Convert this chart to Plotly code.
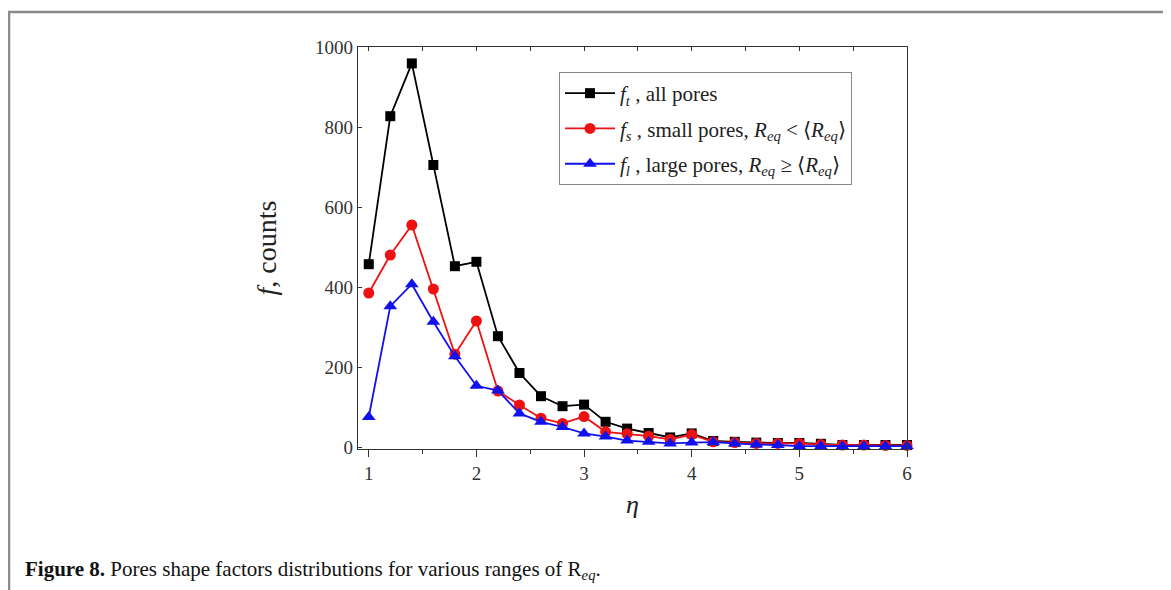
import plotly.graph_objects as go

eta = [1.0, 1.2, 1.4, 1.6, 1.8, 2.0, 2.2, 2.4, 2.6, 2.8, 3.0, 3.2, 3.4, 3.6, 3.8,
       4.0, 4.2, 4.4, 4.6, 4.8, 5.0, 5.2, 5.4, 5.6, 5.8, 6.0]
f_all = [457, 827, 959, 705, 452, 463, 277, 185, 127, 102, 106, 63, 46, 35, 24,
         34, 15, 13, 11, 10, 10, 8, 5, 5, 5, 5]
f_small = [385, 480, 555, 395, 232, 315, 140, 105, 72, 59, 76, 38, 33, 27, 19,
           31, 13, 11, 9, 9, 9, 6, 5, 5, 4, 4]
f_large = [75, 352, 407, 313, 227, 153, 141, 84, 63, 50, 34, 26, 16, 13, 9,
           11, 12, 9, 6, 5, 2, 2, 2, 2, 2, 2]

names = ["<i>f<sub>t</sub></i> , all pores",
         "<i>f<sub>s</sub></i> , small pores, <i>R<sub>eq</sub></i> &lt; ⟨<i>R<sub>eq</sub></i>⟩",
         "<i>f<sub>l</sub></i> , large pores, <i>R<sub>eq</sub></i> ≥ ⟨<i>R<sub>eq</sub></i>⟩"]
colors = ["#000000", "#ee1111", "#1111ee"]
symbols = ["square", "circle", "triangle-up"]
sizes = [10, 11, 12]

# page body has an 8px margin; work in page pixels and shift
OFF = 8
W, H = 1171 - OFF, 590 - OFF


def fx(p):
    return (p - OFF) / W


def fy(p):
    return 1 - (p - OFF) / H


px_l, px_r, px_t, px_b = 358, 907, 47, 449

fig = go.Figure()
for i, (ys, nm, c, s, sz) in enumerate(zip([f_all, f_small, f_large], names, colors, symbols, sizes)):
    fig.add_trace(go.Scatter(x=eta, y=ys, mode="lines+markers", name=nm,
                             legendgroup=f"g{i}",
                             line=dict(color=c, width=1.8),
                             marker=dict(symbol=s, size=sz, color=c),
                             cliponaxis=False))
fig.add_trace(go.Scatter(x=[eta[0]], y=[0], xaxis="x2", mode="markers",
                         marker=dict(opacity=0), showlegend=False, hoverinfo="skip"))

serif = "Liberation Serif"
fig.update_layout(
    width=W, height=H,
    margin=dict(l=0, r=0, t=0, b=0, autoexpand=False),
    paper_bgcolor="white", plot_bgcolor="white",
    font=dict(family=serif, color="#222222"),
    xaxis=dict(domain=[fx(px_l), fx(px_r)], range=[0.9, 6.0], automargin=False,
               tickmode="linear", tick0=1, dtick=1,
               ticks="outside", ticklen=7, tickwidth=1.3, tickcolor="#333",
               minor=dict(dtick=0.5, tick0=1, ticks="outside", ticklen=4, tickcolor="#333"),
               showline=True, linecolor="#333", linewidth=1.3, mirror=True,
               showgrid=False, zeroline=False,
               tickfont=dict(size=19, family=serif, color="#333"),
               title=dict(text="<i>η</i>", font=dict(size=26, family=serif, color="#222"), standoff=11)),
    xaxis2=dict(overlaying="x", side="top", matches="x", anchor="y", automargin=False,
                tickmode="linear", tick0=1, dtick=0.5, ticks="inside", ticklen=4,
                tickcolor="#333", showticklabels=False, showgrid=False, zeroline=False,
                showline=False),
    yaxis=dict(domain=[fy(px_b), fy(px_t)], range=[-5, 1000], automargin=False,
               tickmode="linear", tick0=0, dtick=200,
               ticks="inside", ticklen=4, tickcolor="#333",
               showline=True, linecolor="#333", linewidth=1.3, mirror=True,
               showgrid=False, zeroline=False, ticklabelstandoff=0,
               tickfont=dict(size=19, family=serif, color="#333"),
               title=dict(text="<i>f</i>, counts", font=dict(size=28, family=serif, color="#222"), standoff=30)),
    legend=dict(x=fx(559), y=fy(72), xanchor="left", yanchor="top",
                bgcolor="white", bordercolor="#888", borderwidth=1,
                font=dict(size=21, family=serif, color="#222"),
                traceorder="grouped", itemwidth=50, tracegroupgap=5),
    showlegend=True,
)

# page frame
x0, x1, yt = fx(9), fx(1165), fy(12)
fig.add_shape(type="path", xref="paper", yref="paper",
              path=f"M {x0} -0.05 L {x0} {yt} L {x1} {yt} L {x1} -0.05",
              line=dict(color="#8a8a8a", width=2.5))

fig.add_annotation(xref="paper", yref="paper", x=fx(23), y=fy(570),
                   xanchor="left", yanchor="middle", showarrow=False,
                   text="<b>Figure 8.</b> Pores shape factors distributions for various ranges of R<sub><i>eq</i></sub>.",
                   font=dict(size=21, family=serif, color="#111"))

fig.write_html("out.html")
